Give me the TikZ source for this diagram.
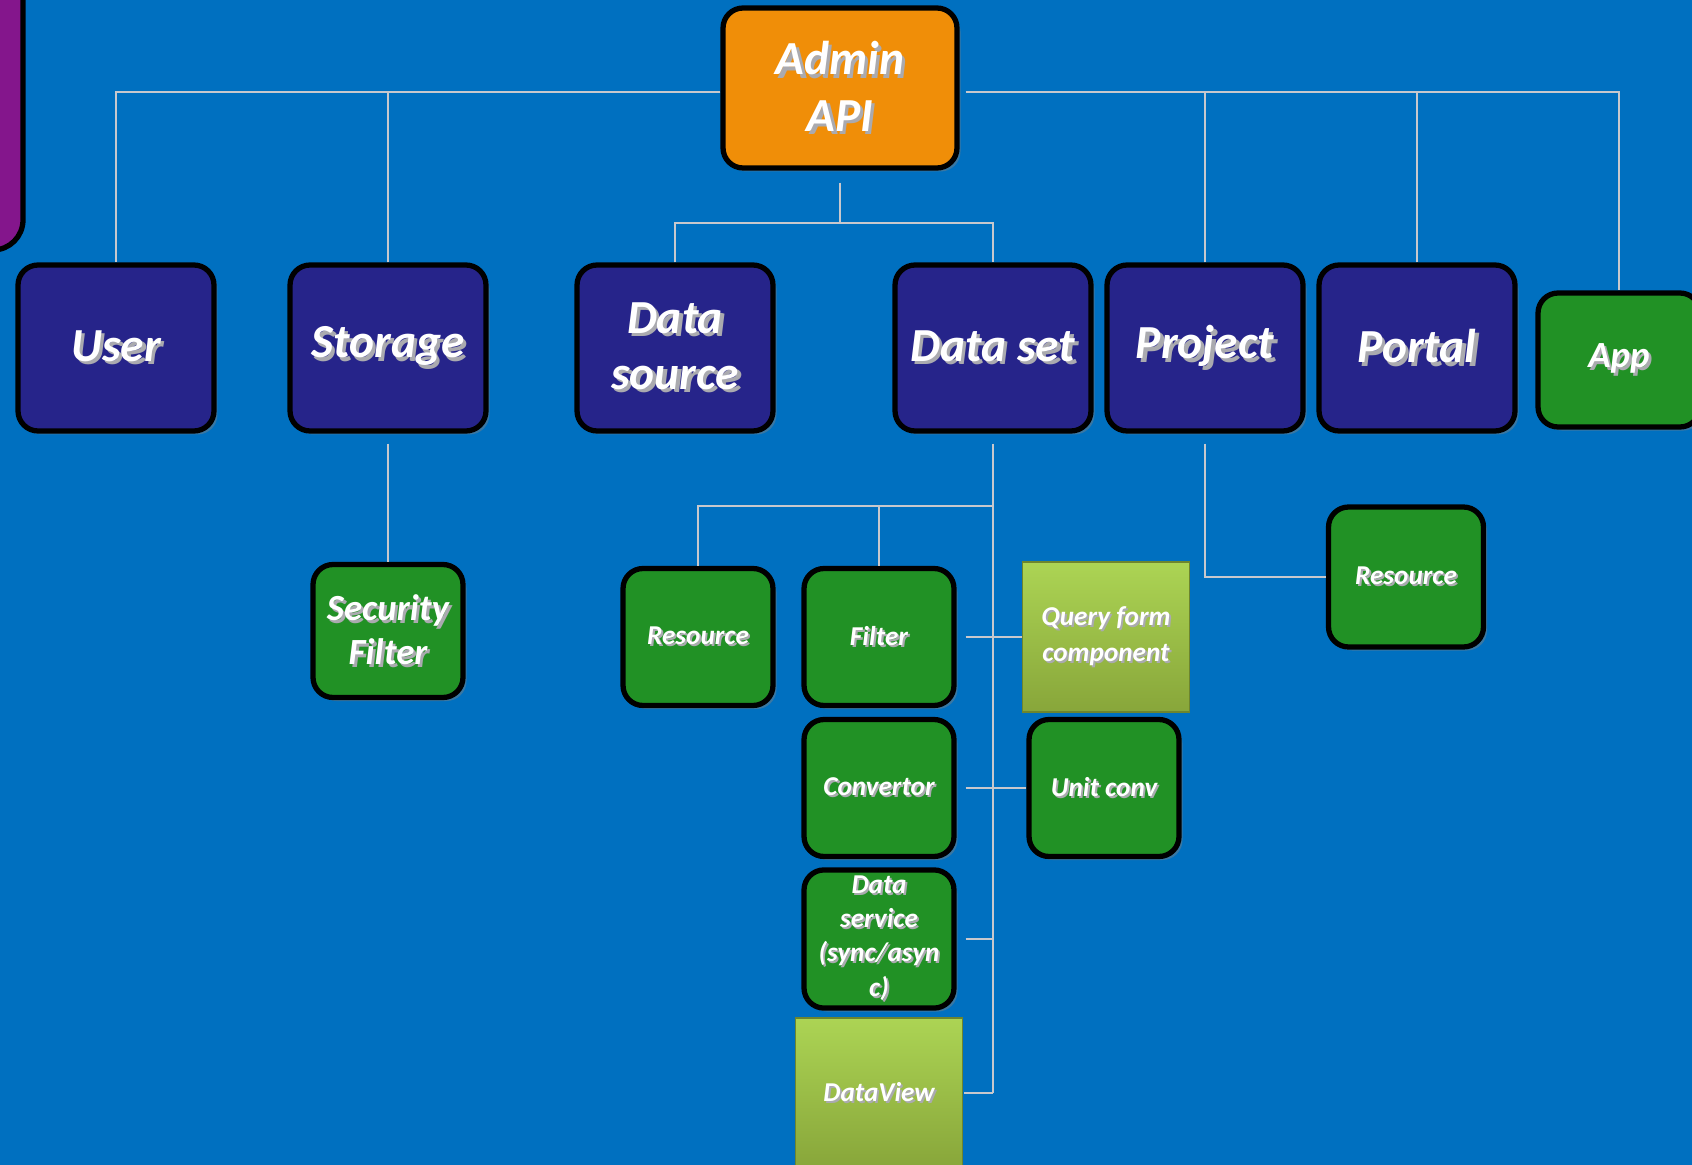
\documentclass[tikz,border=0pt]{standalone}
\usepackage{fontspec}
\setmainfont{Carlito}
\usetikzlibrary{positioning,calc,shadows}
\definecolor{bgblue}{RGB}{0,112,192}
\definecolor{navy}{RGB}{38,36,138}
\definecolor{leaf}{RGB}{33,145,37}
\definecolor{apiorange}{RGB}{240,142,8}
\definecolor{limetop}{RGB}{172,212,84}
\definecolor{limebot}{RGB}{136,166,58}
\definecolor{linkgray}{RGB}{200,200,205}
\definecolor{txtshadow}{RGB}{170,170,175}
\definecolor{plum}{RGB}{132,22,140}
\newcommand{\shtxt}[1]{\rlap{\kern0.07em\raisebox{-0.07em}{\textcolor{txtshadow}{#1}}}#1}

\begin{document}
\begin{tikzpicture}[x=0.02cm,y=-0.02cm,
    box/.style={draw=black,line width=3pt,rounded corners=0.4cm,text=white,align=center,
      drop shadow={shadow xshift=2pt,shadow yshift=-2pt,opacity=0.45}},
    big/.style={box,fill=navy,minimum width=3.92cm,minimum height=3.32cm,
      font=\fontsize{27}{32}\selectfont\bfseries\itshape},
    small/.style={box,fill=leaf,minimum width=3cm,minimum height=2.74cm,
      font=\fontsize{15.5}{19.5}\selectfont\bfseries\itshape},
    bevel/.style={draw=limebot!80!black,line width=0.6pt,top color=limetop,bottom color=limebot,
      text=white,align=center,minimum width=3.34cm,minimum height=3cm,
      font=\fontsize{15.5}{20.5}\selectfont\bfseries\itshape},
    link/.style={draw=linkgray,line width=1.1pt}]
  \useasboundingbox (0,0) rectangle (1692,1165);
  \clip (0,0) rectangle (1692,1165);
  \fill[bgblue] (0,0) rectangle (1692,1165);
  % purple panel cut by the left edge
  \draw[line width=3pt,fill=plum,rounded corners=0.6cm] (-120,-60) rectangle (23,250);

  % top
  \node (admin) [box,fill=apiorange,minimum width=4.68cm,minimum height=3.2cm,
    font=\fontsize{27}{32}\selectfont\bfseries\itshape] at (840,88) {\shtxt{Admin}\\\shtxt{API}};

  % first level
  \node (user) [big] at (116,348) {\shtxt{User}};
  \node (storage) [big] at (388,348) {\shtxt{Storage}};
  \node (datasource) [big] at (675,348) {\shtxt{Data}\\\shtxt{source}};
  \node (dataset) [big] at (993,348) {\shtxt{Data set}};
  \node (project) [big] at (1205,348) {\shtxt{Project}};
  \node (portal) [big] at (1417,348) {\shtxt{Portal}};
  \node (app) [box,fill=leaf,minimum width=3.24cm,minimum height=2.68cm,
    font=\fontsize{21}{25}\selectfont\bfseries\itshape] at (1619,360) {\shtxt{App}};

  % second level
  \node (secfilter) [box,fill=leaf,minimum width=3cm,minimum height=2.66cm,
    font=\fontsize{21}{25}\selectfont\bfseries\itshape] at (388,631) {\shtxt{Security}\\\shtxt{Filter}};
  \node (dsres) [small] at (698,637) {\shtxt{Resource}};
  \node (filter) [small] at (879,637) {\shtxt{Filter}};
  \node (queryform) [bevel] at (1106,637) {\shtxt{Query form}\\\shtxt{component}};
  \node (convertor) [small] at (879,788) {\shtxt{Convertor}};
  \node (unitconv) [small] at (1104,788) {\shtxt{Unit conv}};
  \node (dataservice) [small] at (879,939) {\shtxt{Data}\\\shtxt{service}\\\shtxt{(sync/asyn}\\\shtxt{c)}};
  \node (dataview) [bevel] at (879,1093) {\shtxt{DataView}};
  \node (projres) [small,minimum width=3.1cm,minimum height=2.8cm] at (1406,577) {\shtxt{Resource}};

  % links
  \coordinate (topbus) at ($(admin.west)+(0,4)$);
  \coordinate (midbus) at ($(admin.south)+(0,52)$);
  \coordinate (dsbus) at ($(dataset.south)+(0,72)$);
  \draw[link] (topbus) -| (user.north)
              (storage.north) -- (storage |- topbus);
  \draw[link] ($(admin.east |- topbus)+(6,0)$) -| (app.north)
              (project.north) -- (project |- topbus)
              (portal.north) -- (portal |- topbus);
  \draw[link] ($(admin.south)+(0,12)$) -- (midbus)
              (datasource.north) |- (midbus) -| (dataset.north);
  \draw[link] ($(storage.south)+(0,10)$) -- (secfilter.north);
  \draw[link] ($(dataset.south)+(0,10)$) -- (dataset |- dataview)
              (dsres.north) |- (dsbus)
              (filter.north) -- (filter |- dsbus);
  \draw[link] ($(filter.east)+(9,0)$) -- (queryform.west)
              ($(convertor.east)+(9,0)$) -- (unitconv.west)
              ($(dataservice.east)+(9,0)$) -- (dataservice -| dataset)
              ($(dataview.east)+(1,0)$) -- (dataview -| dataset);
  \draw[link] ($(project.south)+(0,10)$) |- (projres.west);
\end{tikzpicture}
\end{document}
